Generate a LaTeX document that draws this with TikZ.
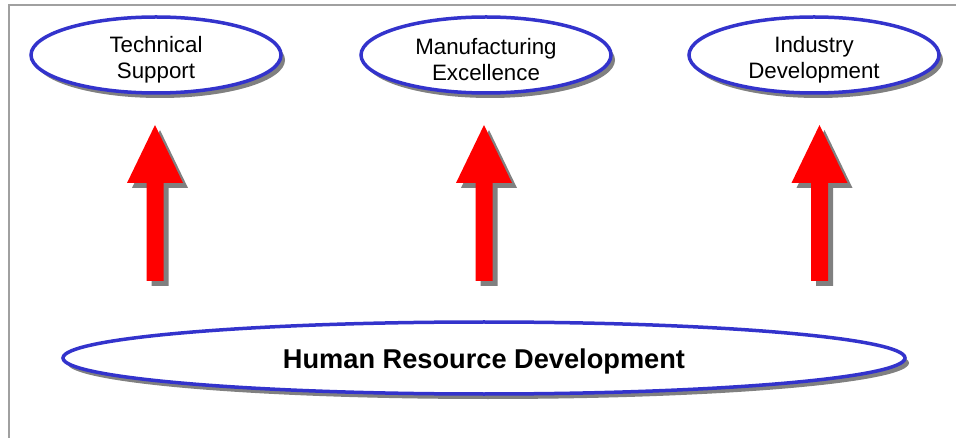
\documentclass[tikz,border=0pt]{standalone}
\usepackage{fontspec}
\setmainfont{Liberation Sans}
\usetikzlibrary{shapes.geometric,shadows}
\definecolor{ringblue}{HTML}{3333CC}
\definecolor{shadowgray}{HTML}{808080}
\definecolor{framegray}{HTML}{A0A0A0}
\definecolor{arrowred}{HTML}{FF0000}
\tikzset{
  ring/.style={ellipse, draw=ringblue, line width=3.5pt, fill=white, inner sep=0pt,
    general shadow={fill=shadowgray, shadow xshift=4pt, shadow yshift=-5pt}},
  goal/.style={ring, minimum width=250pt, minimum height=76pt},
  base/.style={ring, minimum width=842pt, minimum height=72pt},
  goaltext/.style={inner sep=0pt, align=center, font=\fontsize{22.3pt}{26pt}\selectfont},
  basetext/.style={inner sep=0pt, font=\fontsize{27.2pt}{30pt}\selectfont\bfseries},
  framestyle/.style={draw=framegray, line width=2pt},
}
\begin{document}
\begin{tikzpicture}[x=1pt,y=-1pt]
\useasboundingbox (0,0) rectangle (956,438);
\draw[framestyle] (9,438) -- (9,5) -- (956,5);
\node[goal] (ts) at (156,55) {};
\node[goal] (me) at (486,55) {};
\node[goal] (id) at (814,55) {};
\node[base] (hrd) at (484,358) {};
\node[goaltext] (tst) at ([yshift=-5pt]ts.center) {Technical\\Support};
\node[goaltext] (met) at ([yshift=-5pt]me.center) {Manufacturing\\Excellence};
\node[goaltext] (idt) at ([yshift=-5pt]id.center) {Industry\\Development};
\node[basetext] (hrdt) at ([yshift=-3pt]hrd.center) {Human Resource Development};
\foreach \cx/\nm in {155/a1,484/a2,819.5/a3}{
  \fill[shadowgray, shift={(5,5)}]
    (\cx,125) -- (\cx+28,183) -- (\cx+8.5,183) -- (\cx+8.5,281)
    -- (\cx-8.5,281) -- (\cx-8.5,183) -- (\cx-28,183) -- cycle;
  \fill[arrowred]
    (\cx,125) coordinate (\nm) -- (\cx+28,183) -- (\cx+8.5,183) -- (\cx+8.5,281)
    -- (\cx-8.5,281) -- (\cx-8.5,183) -- (\cx-28,183) -- cycle;
}
\end{tikzpicture}
\end{document}
